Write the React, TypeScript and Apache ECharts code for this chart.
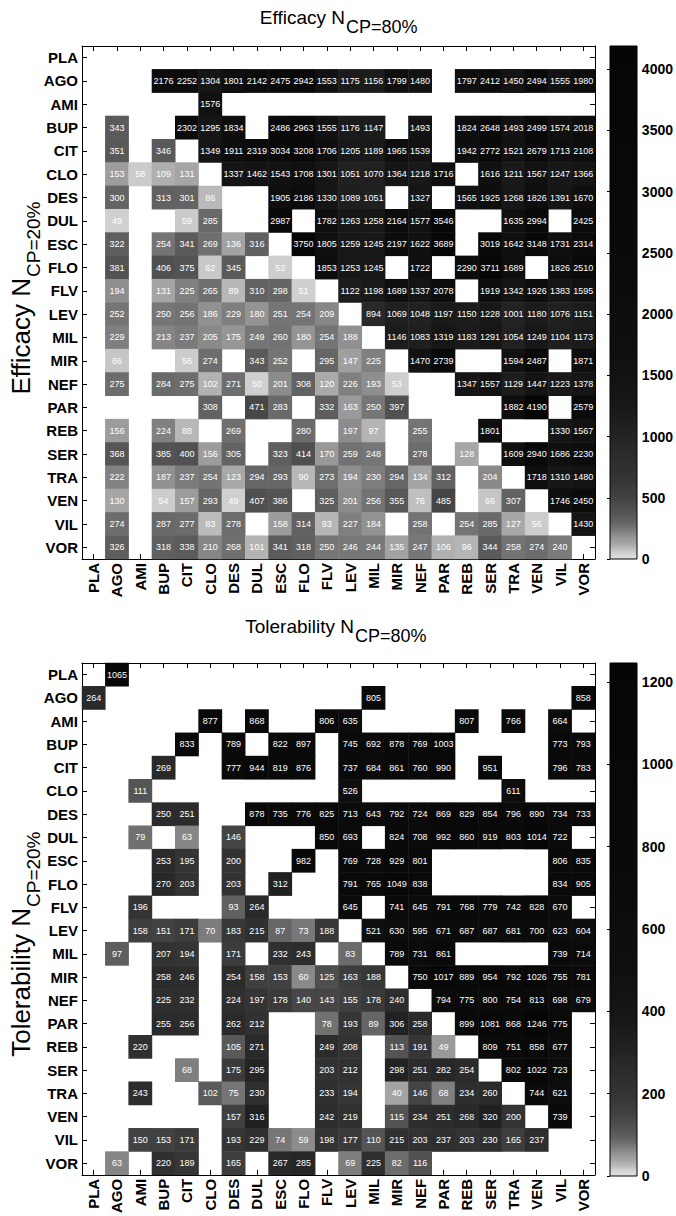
import React, { useEffect, useRef } from 'react';
import * as echarts from 'echarts';

const FONT = 'Liberation Sans';
const drugs = ['PLA','AGO','AMI','BUP','CIT','CLO','DES','DUL','ESC','FLO','FLV','LEV','MIL','MIR','NEF','PAR','REB','SER','TRA','VEN','VIL','VOR'];
const _ = null;

// Efficacy N (CP=20% rows, CP=80% columns)
const effPLA = [_,_,_,_,_,_,_,_,_,_,_,_,_,_,_,_,_,_,_,_,_,_];
const effAGO = [_,_,_,2176,2252,1304,1801,2142,2475,2942,1553,1175,1156,1799,1480,_,1797,2412,1450,2494,1555,1980];
const effAMI = [_,_,_,_,_,1576,_,_,_,_,_,_,_,_,_,_,_,_,_,_,_,_];
const effBUP = [_,343,_,_,2302,1295,1834,_,2486,2963,1555,1176,1147,_,1493,_,1824,2648,1493,2499,1574,2018];
const effCIT = [_,351,_,346,_,1349,1911,2319,3034,3208,1706,1205,1189,1965,1539,_,1942,2772,1521,2679,1713,2108];
const effCLO = [_,153,58,109,131,_,1337,1462,1543,1708,1301,1051,1070,1364,1218,1716,_,1616,1211,1567,1247,1366];
const effDES = [_,300,_,313,301,86,_,_,1905,2186,1330,1089,1051,_,1327,_,1565,1925,1268,1826,1391,1670];
const effDUL = [_,49,_,_,59,285,_,_,2987,_,1782,1263,1258,2164,1577,3546,_,_,1635,2994,_,2425];
const effESC = [_,322,_,254,341,269,136,316,_,3750,1805,1259,1245,2197,1622,3689,_,3019,1642,3148,1731,2314];
const effFLO = [_,381,_,406,375,62,345,_,52,_,1853,1253,1245,_,1722,_,2290,3711,1689,_,1826,2510];
const effFLV = [_,194,_,131,225,265,89,310,298,51,_,1122,1198,1689,1337,2078,_,1919,1342,1926,1383,1595];
const effLEV = [_,252,_,250,256,186,229,180,251,254,209,_,894,1069,1048,1197,1150,1228,1001,1180,1076,1151];
const effMIL = [_,229,_,213,237,205,175,249,260,180,254,188,_,1146,1083,1319,1183,1291,1054,1249,1104,1173];
const effMIR = [_,66,_,_,56,274,_,343,252,_,295,147,225,_,1470,2739,_,_,1594,2487,_,1871];
const effNEF = [_,275,_,284,275,102,271,50,201,308,120,226,193,53,_,_,1347,1557,1129,1447,1223,1378];
const effPAR = [_,_,_,_,_,308,_,471,283,_,332,163,250,397,_,_,_,_,1882,4190,_,2579];
const effREB = [_,156,_,224,88,_,269,_,_,280,_,197,97,_,255,_,_,1801,_,_,1330,1567];
const effSER = [_,368,_,385,400,156,305,_,323,414,170,259,248,_,278,_,128,_,1609,2940,1686,2230];
const effTRA = [_,222,_,187,237,254,123,294,293,90,273,194,230,294,134,312,_,204,_,1718,1310,1480];
const effVEN = [_,130,_,54,157,293,49,407,386,_,325,201,256,355,76,485,_,66,307,_,1746,2450];
const effVIL = [_,274,_,287,277,83,278,_,158,314,93,227,184,_,258,_,254,285,127,56,_,1430];
const effVOR = [_,326,_,318,338,210,268,101,341,318,250,246,244,135,247,106,96,344,258,274,240,_];

// Tolerability N
const tolPLA = [_,1065,_,_,_,_,_,_,_,_,_,_,_,_,_,_,_,_,_,_,_,_];
const tolAGO = [264,_,_,_,_,_,_,_,_,_,_,_,805,_,_,_,_,_,_,_,_,858];
const tolAMI = [_,_,_,_,_,877,_,868,_,_,806,635,_,_,_,_,807,_,766,_,664,_];
const tolBUP = [_,_,_,_,833,_,789,_,822,897,_,745,692,878,769,1003,_,_,_,_,773,793];
const tolCIT = [_,_,_,269,_,_,777,944,819,876,_,737,684,861,760,990,_,951,_,_,796,783];
const tolCLO = [_,_,111,_,_,_,_,_,_,_,_,526,_,_,_,_,_,_,611,_,_,_];
const tolDES = [_,_,_,250,251,_,_,878,735,776,825,713,643,792,724,869,829,854,796,890,734,733];
const tolDUL = [_,_,79,_,63,_,146,_,_,_,850,693,_,824,708,992,860,919,803,1014,722,_];
const tolESC = [_,_,_,253,195,_,200,_,_,982,_,769,728,929,801,_,_,_,_,_,806,835];
const tolFLO = [_,_,_,270,203,_,203,_,312,_,_,791,765,1049,838,_,_,_,_,_,834,905];
const tolFLV = [_,_,196,_,_,_,93,264,_,_,_,645,_,741,645,791,768,779,742,828,670,_];
const tolLEV = [_,_,158,151,171,70,183,215,87,73,188,_,521,630,595,671,687,687,681,700,623,604];
const tolMIL = [_,97,_,207,194,_,171,_,232,243,_,83,_,789,731,861,_,_,_,_,739,714];
const tolMIR = [_,_,_,258,246,_,254,158,153,60,125,163,188,_,750,1017,889,954,792,1026,755,781];
const tolNEF = [_,_,_,225,232,_,224,197,178,140,143,155,178,240,_,794,775,800,754,813,698,679];
const tolPAR = [_,_,_,255,256,_,262,212,_,_,78,193,89,306,258,_,899,1081,868,1246,775,_];
const tolREB = [_,_,220,_,_,_,105,271,_,_,249,208,_,113,191,49,_,809,751,858,677,_];
const tolSER = [_,_,_,_,68,_,175,295,_,_,203,212,_,298,251,282,254,_,802,1022,723,_];
const tolTRA = [_,_,243,_,_,102,75,230,_,_,233,194,_,40,146,68,234,260,_,744,621,_];
const tolVEN = [_,_,_,_,_,_,157,316,_,_,242,219,_,115,234,251,268,320,200,_,739,_];
const tolVIL = [_,_,150,153,171,_,193,229,74,59,198,177,110,215,203,237,203,230,165,237,_,_];
const tolVOR = [_,63,_,220,189,_,165,_,267,285,_,69,225,82,116,_,_,_,_,_,_,_];

const efficacyRows = [effPLA,effAGO,effAMI,effBUP,effCIT,effCLO,effDES,effDUL,effESC,effFLO,effFLV,effLEV,effMIL,effMIR,effNEF,effPAR,effREB,effSER,effTRA,effVEN,effVIL,effVOR];
const tolerabilityRows = [tolPLA,tolAGO,tolAMI,tolBUP,tolCIT,tolCLO,tolDES,tolDUL,tolESC,tolFLO,tolFLV,tolLEV,tolMIL,tolMIR,tolNEF,tolPAR,tolREB,tolSER,tolTRA,tolVEN,tolVIL,tolVOR];

const efficacyRange = [0, 4190];
const tolerabilityRange = [0, 1246];
const efficacyBarTicks = [0, 500, 1000, 1500, 2000, 2500, 3000, 3500, 4000];
const tolerabilityBarTicks = [0, 200, 400, 600, 800, 1000, 1200];

// grey ramp (style): [fraction of range, brightness]
const grayKnots: [number, number][] = [
  [0, 0.88], [0.012, 0.82], [0.02, 0.73], [0.032, 0.64], [0.04, 0.6], [0.05, 0.53],
  [0.06, 0.46], [0.07, 0.4], [0.08, 0.36], [0.09, 0.33], [0.12, 0.26], [0.16, 0.2],
  [0.21, 0.165], [0.25, 0.13], [0.3, 0.09], [0.4, 0.06], [0.6, 0.04], [1, 0.02],
];
function grayAt(t: number) {
  for (let i = 1; i < grayKnots.length; i++) {
    const [t0, b0] = grayKnots[i - 1];
    const [t1, b1] = grayKnots[i];
    if (t <= t1) return b0 + ((t - t0) / (t1 - t0)) * (b1 - b0);
  }
  return grayKnots[grayKnots.length - 1][1];
}
function hexGray(b: number) {
  const v = Math.max(0, Math.min(255, Math.round(b * 255)));
  const h = v.toString(16).padStart(2, '0');
  return '#' + h + h + h;
}
const RAMP_N = 200;
const rampColors = Array.from({ length: RAMP_N + 1 }, (_u, i) => hexGray(grayAt(i / RAMP_N)));

function toCells(rows: (number | null)[][]) {
  const out: number[][] = [];
  rows.forEach((row, yi) => row.forEach((v, xi) => { if (v != null) out.push([xi, yi, v]); }));
  return out;
}

const PLOT_L = 82, PLOT_W = 513, PLOT_H = 513;
const TOP1 = 46, TOP2 = 663;
const BAR_L = 610, BAR_W = 27;

function catAxes(gridIndex: number) {
  const line = { show: true, lineStyle: { color: '#000', width: 1 } };
  const tick = { show: true, inside: true, length: 5, alignWithLabel: true, interval: 0, lineStyle: { color: '#000', width: 1 } };
  const lab = { color: '#000', fontSize: 15, fontWeight: 'bold', fontFamily: FONT, interval: 0 };
  return {
    x: [
      { type: 'category', gridIndex, data: drugs, position: 'bottom', axisLine: line, axisTick: tick,
        axisLabel: { ...lab, rotate: 90, margin: 4 }, splitLine: { show: false } },
      { type: 'category', gridIndex, data: drugs, position: 'top', axisLine: line, axisTick: tick,
        axisLabel: { show: false }, splitLine: { show: false } },
    ],
    y: [
      { type: 'category', gridIndex, data: drugs, inverse: true, position: 'left', axisLine: line, axisTick: tick,
        axisLabel: { ...lab, margin: 4 }, splitLine: { show: false } },
      { type: 'category', gridIndex, data: drugs, inverse: true, position: 'right', axisLine: line, axisTick: tick,
        axisLabel: { show: false }, splitLine: { show: false } },
    ],
  };
}

function barAxes(gridIndex: number, range: number[], ticks: number[]) {
  return {
    x: { type: 'value', gridIndex, show: false, min: 0, max: 1 },
    y: {
      type: 'value', gridIndex, min: range[0], max: range[1], interval: ticks[1] - ticks[0], position: 'right',
      axisLine: { show: false },
      axisTick: { show: true, inside: true, length: 3, lineStyle: { color: '#000' } },
      axisLabel: { show: true, color: '#000', fontSize: 14, fontWeight: 'bold', fontFamily: FONT, margin: 6,
        showMaxLabel: false, formatter: (v: number) => (ticks.includes(v) ? String(v) : '') },
      splitLine: { show: false },
    },
  };
}

function heatSeries(idx: number, rows: (number | null)[][]) {
  return {
    type: 'heatmap', xAxisIndex: idx, yAxisIndex: idx, data: toCells(rows),
    label: { show: true, color: '#fff', fontSize: 9, fontFamily: FONT, formatter: (p: any) => String(p.value[2]) },
    itemStyle: { borderWidth: 0 },
    emphasis: { disabled: true },
  };
}

function colorBar(top: number) {
  const stops = rampColors.map((c, i) => ({ offset: i / RAMP_N, color: rampColors[RAMP_N - i] }));
  return [
    { type: 'rect', z: -1, shape: { x: BAR_L, y: top, width: BAR_W, height: PLOT_H },
      style: { fill: new echarts.graphic.LinearGradient(0, 0, 0, 1, stops), stroke: 'none' } },
    { type: 'rect', z: 10, shape: { x: BAR_L, y: top, width: BAR_W, height: PLOT_H },
      style: { fill: 'none', stroke: '#000', lineWidth: 1 } },
  ];
}

function title(x: number, y: number, main: string, sub: string) {
  return {
    type: 'group', x, y, children: [
      { type: 'text', x: 0, y: 0, style: { text: main, fontSize: 19, fontFamily: FONT, fill: '#000', align: 'right', textAlign: 'right', verticalAlign: 'middle', textVerticalAlign: 'middle' } },
      { type: 'text', x: 1, y: 10, style: { text: sub, fontSize: 18, fontFamily: FONT, fill: '#000', align: 'left', textAlign: 'left', verticalAlign: 'middle', textVerticalAlign: 'middle' } },
    ],
  };
}

function yTitle(x: number, y: number, main: string, sub: string) {
  return {
    type: 'group', x, y, rotation: Math.PI / 2, children: [
      { type: 'text', x: 0, y: 0, style: { text: main, fontSize: 26, fontFamily: FONT, fill: '#000', align: 'right', textAlign: 'right', verticalAlign: 'middle', textVerticalAlign: 'middle' } },
      { type: 'text', x: 1, y: 12, style: { text: sub, fontSize: 19, fontFamily: FONT, fill: '#000', align: 'left', textAlign: 'left', verticalAlign: 'middle', textVerticalAlign: 'middle' } },
    ],
  };
}

export default function App() {
  const ref = useRef<HTMLDivElement>(null);
  useEffect(() => {
    document.body.style.margin = '0';
    if (!ref.current) return;
    const chart = echarts.init(ref.current, undefined, { renderer: 'svg' });
    const a1 = catAxes(0), a2 = catAxes(1);
    const b1 = barAxes(2, efficacyRange, efficacyBarTicks);
    const b2 = barAxes(3, tolerabilityRange, tolerabilityBarTicks);
    chart.setOption({
      animation: false,
      backgroundColor: '#fff',
      textStyle: { fontFamily: FONT },
      grid: [
        { left: PLOT_L, top: TOP1, width: PLOT_W, height: PLOT_H },
        { left: PLOT_L, top: TOP2, width: PLOT_W, height: PLOT_H },
        { left: BAR_L, top: TOP1, width: BAR_W, height: PLOT_H },
        { left: BAR_L, top: TOP2, width: BAR_W, height: PLOT_H },
      ],
      xAxis: [a1.x[0], a1.x[1], a2.x[0], a2.x[1], b1.x, b2.x],
      yAxis: [a1.y[0], a1.y[1], a2.y[0], a2.y[1], b1.y, b2.y],
      visualMap: [
        { type: 'continuous', show: false, min: efficacyRange[0], max: efficacyRange[1], seriesIndex: 0, inRange: { color: rampColors } },
        { type: 'continuous', show: false, min: tolerabilityRange[0], max: tolerabilityRange[1], seriesIndex: 1, inRange: { color: rampColors } },
      ],
      series: [heatSeries(0, efficacyRows), heatSeries(2, tolerabilityRows)],
      graphic: [
        ...colorBar(TOP1),
        ...colorBar(TOP2),
        title(345, 17, 'Efficacy N', 'CP=80%'),
        title(354, 626, 'Tolerability N', 'CP=80%'),
        yTitle(21, 278, 'Efficacy N', 'CP=20%'),
        yTitle(21, 908, 'Tolerability N', 'CP=20%'),
      ],
    });
    return () => chart.dispose();
  }, []);
  return <div ref={ref} style={{ width: 676, height: 1216 }} />;
}
